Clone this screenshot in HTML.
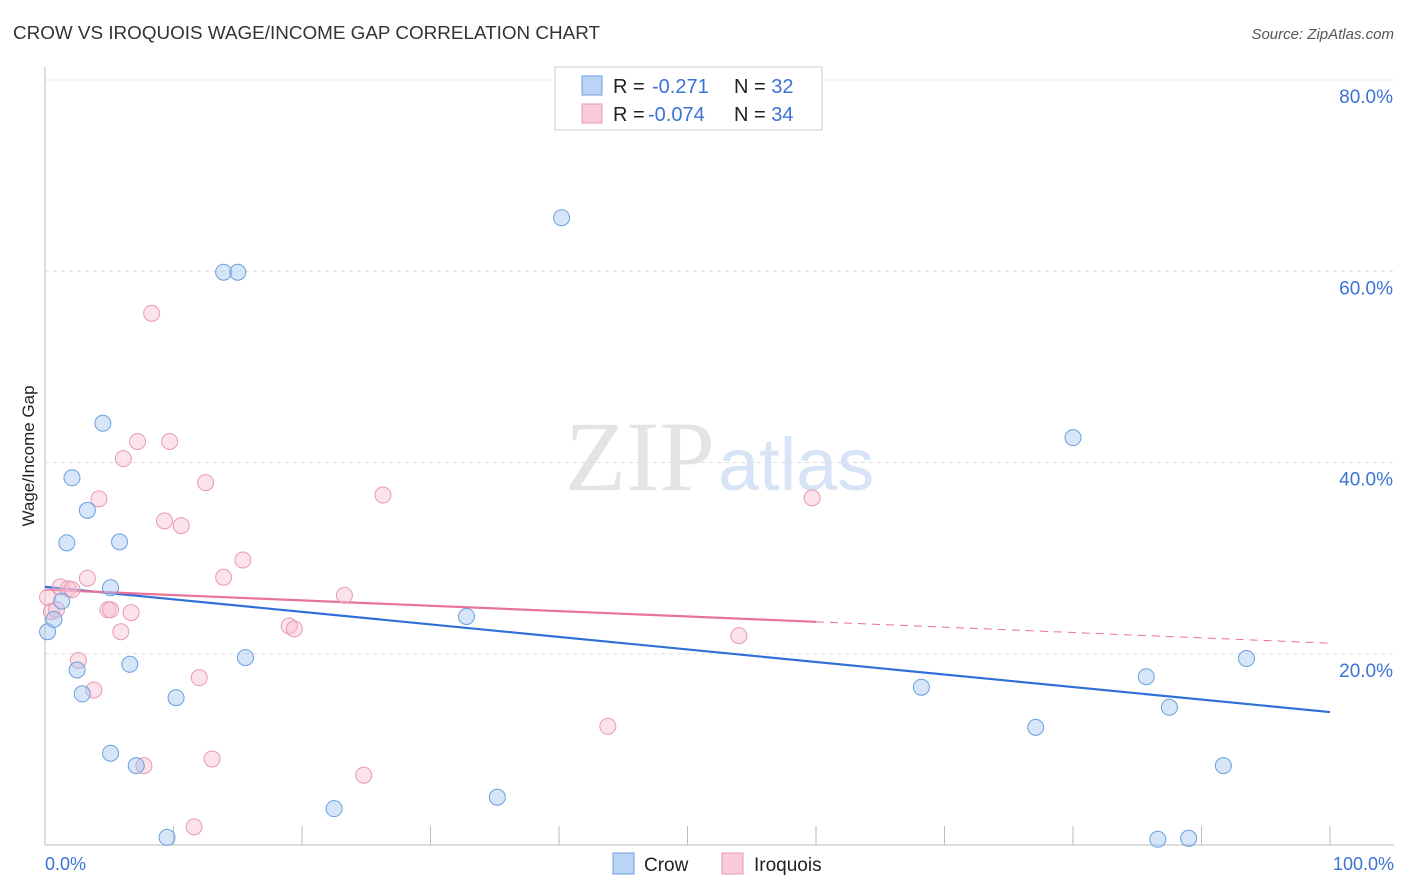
<!DOCTYPE html>
<html><head><meta charset="utf-8">
<style>
body{margin:0;background:#fff;font-family:"Liberation Sans",sans-serif;}
#wrap{position:relative;width:1406px;height:892px;overflow:hidden;}
</style></head>
<body>
<div id="wrap">
<svg id="svg" width="1406" height="892" xmlns="http://www.w3.org/2000/svg">
<text x="13" y="39" font-size="18" fill="#333" textLength="587" lengthAdjust="spacingAndGlyphs">CROW VS IROQUOIS WAGE/INCOME GAP CORRELATION CHART</text>
<text x="1394" y="39" font-size="15" fill="#555" font-style="italic" text-anchor="end">Source: ZipAtlas.com</text>
<text x="715" y="490" font-size="100" fill="#e4e4e4" text-anchor="end" font-family="Liberation Serif,serif">ZIP</text>
<text x="718" y="490" font-size="74" fill="#d6e4f5">atlas</text>
<g id="grid"></g>
<g id="lines"></g>
<g id="pts"></g>
<text transform="translate(34,456) rotate(-90)" font-size="17" fill="#222" text-anchor="middle">Wage/Income Gap</text>
<text x="45" y="870" font-size="18" fill="#3b73d4">0.0%</text>
<text x="1394" y="870" font-size="18" fill="#3b73d4" text-anchor="end">100.0%</text>
<g>
<rect x="555" y="67" width="267" height="63" fill="#fff" stroke="#ccc"/>
<rect x="582" y="76" width="20" height="19" fill="#bcd4f4" stroke="#6a9fe0"/>
<rect x="582" y="104" width="20" height="19" fill="#fbcbd9" stroke="#e89ab3"/>
<text x="613" y="93" font-size="20" fill="#222">R = <tspan x="652" fill="#3b73d4">-0.271</tspan><tspan x="734">N = </tspan><tspan fill="#3b73d4">32</tspan></text>
<text x="613" y="121" font-size="20" fill="#222">R = <tspan x="648" fill="#3b73d4">-0.074</tspan><tspan x="734">N = </tspan><tspan fill="#3b73d4">34</tspan></text>
</g>
<g>
<rect x="613" y="853" width="21" height="21" fill="#bcd4f4" stroke="#6a9fe0"/>
<text x="644" y="871" font-size="19" fill="#222">Crow</text>
<rect x="722" y="853" width="21" height="21" fill="#fbcbd9" stroke="#e89ab3"/>
<text x="754" y="871" font-size="19" fill="#222">Iroquois</text>
</g>
</svg>
</div>
<script>
const yTicks=[20,40,60,80];
const xTicks=[0,10,20,30,40,50,60,70,80,90,100];
const crowX=[0.2,0.7,1.3,1.7,2.1,2.5,2.9,3.3,4.5,5.1,5.1,5.8,6.6,7.1,9.5,10.2,13.9,15.0,15.6,22.5,32.8,35.2,40.2,68.2,77.1,80.0,85.7,86.6,87.5,89.0,91.7,93.5];
const crowY=[22.3,23.6,25.5,31.6,38.4,18.3,15.8,35.0,44.1,26.9,9.6,31.7,18.9,8.3,0.8,15.4,59.9,59.9,19.6,3.8,23.9,5.0,65.6,16.5,12.3,42.6,17.6,0.6,14.4,0.7,8.3,19.5];
const iroX=[0.2,0.5,0.9,1.2,1.8,2.1,2.6,3.3,3.8,4.2,4.9,5.1,5.9,6.1,6.7,7.2,7.7,8.3,9.3,9.7,10.6,11.6,12.0,12.5,13.0,13.9,15.4,19.0,19.4,23.3,24.8,26.3,43.8,54.0,59.7];
const iroY=[25.9,24.4,24.6,27.0,26.8,26.7,19.3,27.9,16.2,36.2,24.6,24.6,22.3,40.4,24.3,42.2,8.3,55.6,33.9,42.2,33.4,1.9,17.5,37.9,9.0,28.0,29.8,22.9,22.6,26.1,7.3,36.6,12.4,21.9,36.3];
const crowTrend=[27.0,13.9];
const iroTrend=[26.7,21.1];
const iroSolidEnd=60;
const NS="http://www.w3.org/2000/svg";
const X=v=>45+v*12.85, Y=v=>845-v*9.5625;
function mk(t,a,p){const e=document.createElementNS(NS,t);for(const k in a)e.setAttribute(k,a[k]);p.appendChild(e);return e;}
const grid=document.getElementById('grid');
mk('line',{x1:45,y1:845,x2:1394,y2:845,stroke:'#bbb'},grid);
mk('line',{x1:45,y1:67,x2:45,y2:845,stroke:'#bbb'},grid);
yTicks.forEach(t=>{
 const l=mk('line',{x1:45,y1:Y(t),x2:1394,y2:Y(t),stroke:'#ddd','stroke-dasharray':'4,4'},grid);
 
 
 const tx=mk('text',{x:1393,y:Y(t)+23,'font-size':19,fill:'#3b73d4','text-anchor':'end'},grid);
 tx.textContent=t.toFixed(1)+'%';
 
 
});
xTicks.forEach(t=>{
 const l=mk('line',{x1:X(t),y1:826,x2:X(t),y2:845,stroke:'#bbb'},grid);
 
 
});
const lines=document.getElementById('lines');
const lc=mk('line',{x1:X(0),y1:Y(crowTrend[0]),x2:X(100),y2:Y(crowTrend[1]),stroke:'#2f6fd8','stroke-width':2.2},lines);


const iy=x=>iroTrend[0]+(iroTrend[1]-iroTrend[0])*x/100;
const li=mk('line',{x1:X(0),y1:Y(iy(0)),x2:X(iroSolidEnd),y2:Y(iy(iroSolidEnd)),stroke:'#e8729a','stroke-width':2.2},lines);


const ld=mk('line',{x1:X(iroSolidEnd),y1:Y(iy(iroSolidEnd)),x2:X(100),y2:Y(iy(100)),stroke:'#e8729a','stroke-width':1,'stroke-dasharray':'8,6'},lines);


const pts=document.getElementById('pts');
iroX.forEach((x,i)=>{
 const c=mk('circle',{cx:X(x),cy:Y(iroY[i]),r:8,fill:'rgba(248,190,208,0.45)',stroke:'#e89ab3','stroke-width':1},pts);
 
 
});
crowX.forEach((x,i)=>{
 const c=mk('circle',{cx:X(x),cy:Y(crowY[i]),r:8,fill:'rgba(164,198,240,0.45)',stroke:'#6a9fe0','stroke-width':1},pts);
 
 
});
</script>
</body></html>
